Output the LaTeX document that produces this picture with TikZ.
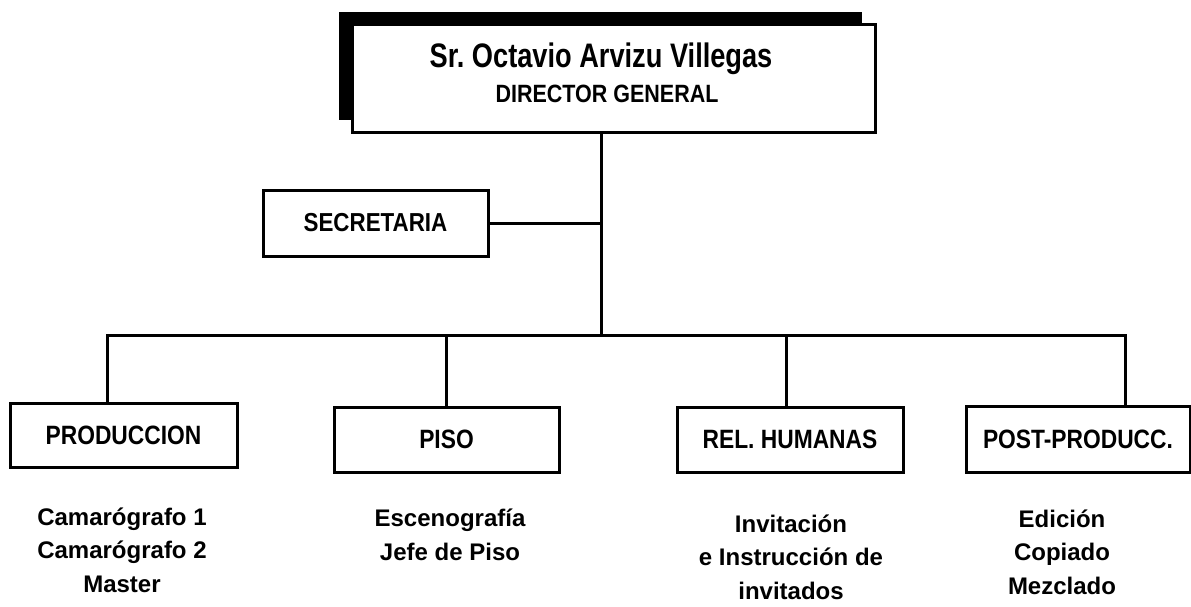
\documentclass[tikz,border=0pt]{standalone}
\usepackage{fontspec}
\setmainfont{Liberation Sans}
\newfontfamily\nb[FakeStretch=0.86]{Liberation Sans}
\newfontfamily\nbb[FakeStretch=0.8]{Liberation Sans}
\usetikzlibrary{shadows}
\frenchspacing
\begin{document}
\begin{tikzpicture}[x=1pt,y=-1pt,line width=3pt,
  box/.style={draw, fill=white, inner sep=0pt, line width=3pt,
    font=\nb\bfseries\fontsize{26.5}{30}\selectfont},
  lbl/.style={inner sep=0pt, anchor=base},
  sub/.style={align=center, inner sep=0pt, anchor=base,
    font=\bfseries\fontsize{24}{33.5}\selectfont},
  link/.style={draw, line width=3pt, line join=miter}]
\useasboundingbox (0,0) rectangle (1191,606);
% director
\node[box, minimum width=523pt, minimum height=108pt,
  general shadow={fill=black, shadow xshift=-13pt, shadow yshift=12pt}]
  (dir) at (613.5,78) {};
\node[lbl, font=\nbb\bfseries\fontsize{34}{38}\selectfont] (name) at (601,67)
  {Sr. Octavio Arvizu Villegas};
\node[lbl, font=\nb\bfseries\fontsize{25}{30}\selectfont] (title) at (607,102)
  {DIRECTOR GENERAL};
% secretary
\node[box, minimum width=225pt, minimum height=66pt,
  font=\nb\bfseries\fontsize{26}{30}\selectfont] (sec) at (375.5,223) {SECRETARIA};
% departments
\node[box, minimum width=227pt, minimum height=64pt] (prod) at (123.5,435) {PRODUCCION};
\node[box, minimum width=225pt, minimum height=65pt] (piso) at (446.5,439.5) {PISO};
\node[box, minimum width=226pt, minimum height=65pt] (rel) at (790,439.5) {REL. HUMANAS};
\node[box, minimum width=224pt, minimum height=66pt] (post) at (1078,439) {POST-PRODUCC.};
% bus coordinates
\coordinate (j) at (601,335);
\coordinate (b1) at (107,335);
\coordinate (b2) at (446,335);
\coordinate (b3) at (786,335);
\coordinate (b4) at (1125,335);
% connectors
\path[link] (dir.south -| j) -- (j);
\path[link] (sec.east) -- (sec.east -| j);
\path[link] (b1 |- prod.north) -- (b1) -- (b4) -- (b4 |- post.north);
\path[link] (b2) -- (b2 |- piso.north);
\path[link] (b3) -- (b3 |- rel.north);
% sub texts (anchor = baseline of last line)
\node[sub] (prodsub) at (122,592) {Camarógrafo 1\\Camarógrafo 2\\Master};
\node[sub] (pisosub) at (450,560) {Escenografía\\Jefe de Piso};
\node[sub] (relsub) at (791,599) {Invitación\\e Instrucción de\\invitados};
\node[sub] (postsub) at (1062,594) {Edición\\Copiado\\Mezclado};
\end{tikzpicture}
\end{document}
